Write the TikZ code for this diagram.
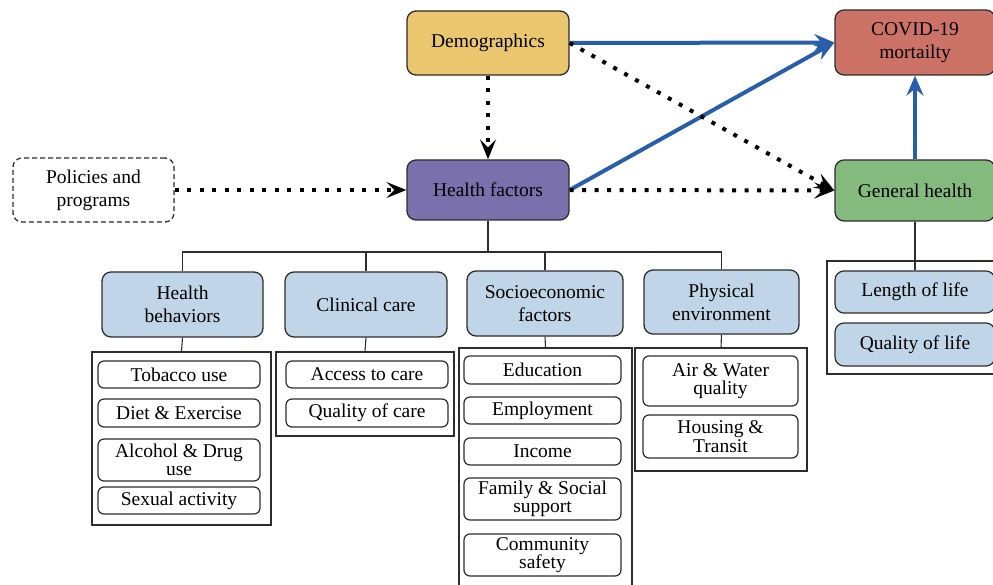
\documentclass[tikz,border=0pt]{standalone}
\usepackage{fontspec}
\setmainfont{Liberation Serif}
\usepackage{xcolor}
\usepackage{tikz}
\usetikzlibrary{arrows.meta}
\definecolor{demoyellow}{RGB}{234,198,110}
\definecolor{covidred}{RGB}{205,114,103}
\definecolor{hfpurple}{RGB}{121,112,172}
\definecolor{ghgreen}{RGB}{132,186,126}
\definecolor{catblue}{RGB}{192,214,232}
\definecolor{arrowblue}{RGB}{40,94,170}
\definecolor{boxline}{RGB}{45,45,45}
\tikzset{
mainbox/.style={
  draw=boxline, line width=1.3pt,
  rounded corners=9pt,
  minimum width=162pt, minimum height=64pt,
  align=center,
  font=\fontsize{19.5}{23}\selectfont
},
catbox/.style={mainbox, fill=catblue},
itembox/.style={
  draw=boxline, line width=1.2pt,
  rounded corners=6pt, inner sep=1pt,
  align=center,
  font=\fontsize{19.5}{18.5}\selectfont
},
groupbox/.style={draw=boxline, line width=1.3pt, inner sep=0pt},
tree/.style={draw=boxline, line width=1.1pt},
causal/.style={draw=arrowblue, line width=4pt,
  -{Stealth[length=20pt,width=17pt,inset=7pt]}},
dotlink/.style={line width=4pt, dash pattern=on 4pt off 8.5pt,
  -{Stealth[length=20pt,width=16pt,inset=8pt]}},
}

\begin{document}
\begin{tikzpicture}[x=1pt,y=-1pt]
\useasboundingbox (0,0) rectangle (993,585);
% the top row
\node[mainbox, fill=demoyellow] (demo) at (488,43) {Demographics};
\node[mainbox, fill=covidred, minimum width=160pt, minimum height=65pt] (covid) at (915,42.5) {COVID-19\\mortailty};
\node[mainbox, fill=hfpurple, minimum height=60pt] (hf) at (488,190) {Health factors};
\node[mainbox, fill=ghgreen, minimum width=160pt, minimum height=61pt] (gh) at (915,190.5) {General health};
\node[mainbox, dash pattern=on 5pt off 3pt, minimum width=161pt] (pol) at (93.5,190) {Policies and\\programs};

% the categories
\node[catbox, minimum width=161pt, minimum height=65pt] (hb) at (182.5,304.5) {Health\\behaviors};
\node[catbox, minimum width=162pt, minimum height=65pt] (cc) at (366,304.5) {Clinical care};
\node[catbox, minimum width=156pt, minimum height=65pt] (se) at (545,303.5) {Socioeconomic\\factors};
\node[catbox, minimum width=155pt, minimum height=64pt] (pe) at (721.5,302) {Physical\\environment};

% the group frames
\node[groupbox, minimum width=179pt, minimum height=173pt] (hbg) at (181.5,438.5) {};
\node[groupbox, minimum width=178pt, minimum height=84pt] (ccg) at (365,394) {};
\node[groupbox, minimum width=173pt, minimum height=252pt] (seg) at (545.5,474) {};
\node[groupbox, minimum width=172pt, minimum height=123pt] (peg) at (721,409.5) {};
\node[groupbox, minimum width=176pt, minimum height=113pt] (ghg) at (915,317.5) {};

% the items
\foreach \n/\y/\h/\t in {tob/374.5/27/Tobacco use, diet/413/28/Diet \& Exercise,
  alc/460/42/Alcohol \& Drug\\use, sex/500.5/27/Sexual activity}
  \node[itembox, minimum width=162pt, minimum height=\h pt] (\n) at (179,\y) {\t};
\foreach \n/\y/\h/\t in {acc/374.5/27/Access to care, qoc/413/28/Quality of care}
  \node[itembox, minimum width=162pt, minimum height=\h pt] (\n) at (367,\y) {\t};
\foreach \n/\y/\h/\t in {edu/370/28/Education, emp/410.5/27/Employment,
  inc/451.5/27/Income, fam/499/42/Family \& Social\\support, com/555/42/Community\\safety}
  \node[itembox, minimum width=157pt, minimum height=\h pt] (\n) at (542.5,\y) {\t};
\foreach \n/\y/\h/\t in {air/381/50/Air \& Water\\quality, hou/436.5/43/Housing \&\\Transit}
  \node[itembox, minimum width=155pt, minimum height=\h pt] (\n) at (720.5,\y) {\t};
\foreach \n/\y/\h/\t in {len/292/42/Length of life, qol/344.5/43/Quality of life}
  \node[itembox, fill=catblue, rounded corners=9pt, minimum width=160pt, minimum height=\h pt] (\n) at (915,\y) {\t};

% the tree rules
\coordinate (bus) at (488,252);
\draw[tree] (hf.south) -- (bus);
\foreach \c in {hb,cc,se,pe}
  \draw[tree] (\c.north) |- (bus);
\foreach \c/\g in {hb/hbg,cc/ccg,se/seg,pe/peg}
  \draw[tree] (\c.south) -- (\g.north);
\draw[tree] (gh.south) -- (len.north);

% the arrows
\draw[causal] (demo.east) -- (covid.west);
\draw[causal] (hf.east) -- (covid.west);
\draw[causal] (gh.north) -- (covid.south);
\draw[dotlink] (demo.south) -- (hf.north);
\draw[dotlink] (demo.east) -- (gh.west);
\draw[dotlink] (hf.east) -- (gh.west);
\draw[dotlink] (pol.east) -- (hf.west);

\end{tikzpicture}
\end{document}
